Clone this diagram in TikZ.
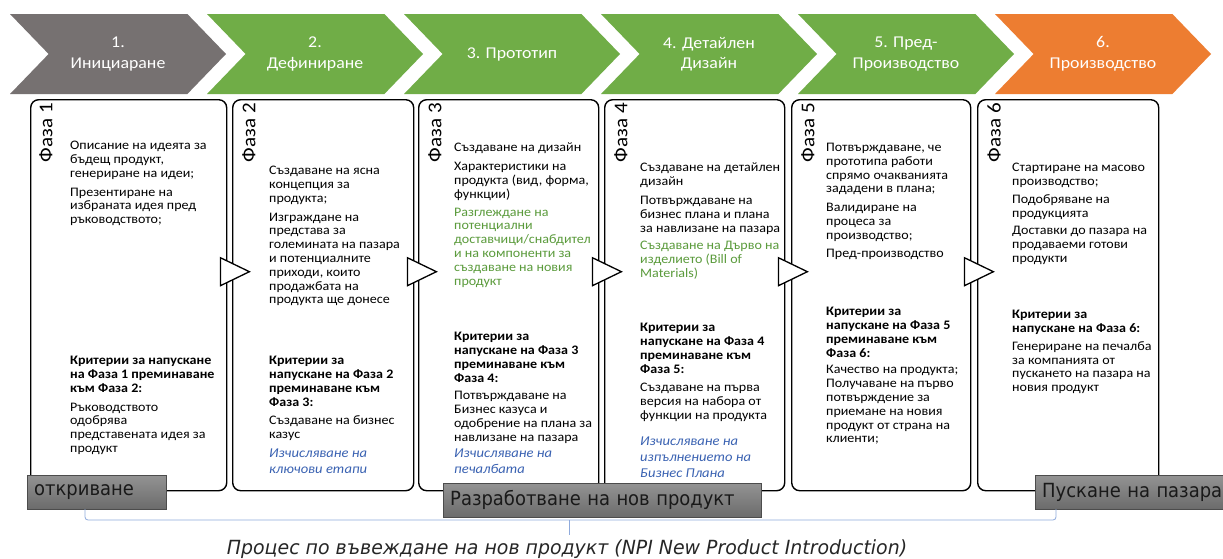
\documentclass[tikz,border=0pt]{standalone}
\usepackage{fontspec}
\setmainfont{Carlito}[FakeStretch=1.08]
\newfontfamily\djv{DejaVu Sans}[FakeStretch=0.92]
\newfontfamily\djvcap{DejaVu Sans}[FakeStretch=0.97]
\usetikzlibrary{shapes.symbols,calc}
\definecolor{cgray}{HTML}{767171}
\definecolor{cgreen}{HTML}{70AD47}
\definecolor{corange}{HTML}{ED7D31}
\definecolor{tgreen}{HTML}{5B9B3C}
\definecolor{tblue}{HTML}{3A62B2}
\definecolor{lblue}{HTML}{8FAADC}
\definecolor{labtop}{HTML}{939393}
\definecolor{labbot}{HTML}{6B6B6B}
\tikzset{
  chev/.style={signal, signal to=east, signal from=west, signal pointer angle=92,
    minimum width=216pt, minimum height=80pt, inner sep=0pt, draw=none,
    text=white, align=center, font=\fontsize{16.5}{20.5}\selectfont},
  phasebox/.style={draw=black, line width=1.4pt, rounded corners=8pt, anchor=north west, inner sep=0pt},
  tri/.style={draw=black, line width=1.3pt, fill=white, line join=miter},
  phase/.style={rotate=90, anchor=east, inner sep=0pt, font=\fontsize{19.5}{22}\selectfont},
  txt/.style={anchor=north west, inner sep=0pt, align=left, font=\fontsize{13}{13.8}\selectfont},
  note/.style={anchor=north west, inner sep=0pt, align=left, text=tblue, font=\fontsize{13.5}{16}\selectfont\itshape},
  lab/.style={draw=black!70, top color=labtop, bottom color=labbot, anchor=north west,
    inner xsep=7pt, inner ysep=0pt, minimum height=34pt, align=left, text=black!90,
    font=\djv\fontsize{19.5}{22}\selectfont},
  brace/.style={draw=lblue, line width=0.8pt, rounded corners=3pt}
}
\begin{document}
\begin{tikzpicture}[x=1pt,y=-1pt]
\useasboundingbox (0,0) rectangle (1223,558);
\fill[white] (0,0) rectangle (1223,558);
% chevrons
\node[chev, fill=cgray]   (c1) at (118,54)  {1.\\Инициаране};
\node[chev, fill=cgreen]  (c2) at (315,54)  {2.\\Дефиниране};
\node[chev, fill=cgreen]  (c3) at (512,54)  {3. Прототип};
\node[chev, fill=cgreen]  (c4) at (709,54)  {4. Детайлен\\Дизайн};
\node[chev, fill=cgreen]  (c5) at (906,54)  {5. Пред-\\Производство};
\node[chev, fill=corange] (c6) at (1103,54) {6.\\Производство};
% phase boxes
\node[phasebox, minimum width=196pt, minimum height=391pt] (b1) at (30,99) {};
\node[phasebox, minimum width=181pt, minimum height=391pt] (b2) at (232,99) {};
\node[phasebox, minimum width=180pt, minimum height=391pt] (b3) at (418,99) {};
\node[phasebox, minimum width=180pt, minimum height=391pt] (b4) at (604,99) {};
\node[phasebox, minimum width=179pt, minimum height=391pt] (b5) at (791,99) {};
\node[phasebox, minimum width=181pt, minimum height=391pt] (b6) at (977,99) {};
% arrow triangles between boxes
\foreach \b in {b1,b2,b3,b4,b5}{
  \draw[tri] ($(\b.east)+(-7,-37.5)$) -- ++(29,14) -- ++(-29,14) -- cycle;
}
% phase labels
\node[phase] (f1) at (46,103) {Фаза 1};
\node[phase] (f2) at (249,103) {Фаза 2};
\node[phase] (f3) at (435,103) {Фаза 3};
\node[phase] (f4) at (621,103) {Фаза 4};
\node[phase] (f5) at (808,103) {Фаза 5};
\node[phase] (f6) at (994,103) {Фаза 6};
% box 1
\node[txt] (t1a) at (70,141) {Описание на идеята за\\бъдещ продукт,\\генериране на идеи;\\[5pt]Презентиране на\\избраната идея пред\\ръководството;};
\node[txt] (t1b) at (70,356) {\textbf{Критерии за напускане}\\\textbf{на Фаза 1 преминаване}\\\textbf{към Фаза 2:}\\[5pt]Ръководството\\одобрява\\представената идея за\\продукт};
% box 2
\node[txt] (t2a) at (269,166) {Създаване на ясна\\концепция за\\продукта;\\[5pt]Изграждане на\\представа за\\големината на пазара\\и потенциалните\\приходи, които\\продажбата на\\продукта ще донесе};
\node[txt] (t2b) at (269,356) {\textbf{Критерии за}\\\textbf{напускане на Фаза 2}\\\textbf{преминаване към}\\\textbf{Фаза 3:}\\[5pt]Създаване на бизнес\\казус};
\node[note] (t2c) at (269,449) {Изчисляване на\\ключови етапи};
% box 3
\node[txt] (t3a) at (454,143) {Създаване на дизайн\\[5pt]Характеристики на\\продукта (вид, форма,\\функции)\\[4pt]\textcolor{tgreen}{Разглеждане на}\\\textcolor{tgreen}{потенциални}\\\textcolor{tgreen}{доставчици/снабдител}\\\textcolor{tgreen}{и на компоненти за}\\\textcolor{tgreen}{създаване на новия}\\\textcolor{tgreen}{продукт}};
\node[txt] (t3b) at (454,332) {\textbf{Критерии за}\\\textbf{напускане на Фаза 3}\\\textbf{преминаване към}\\\textbf{Фаза 4:}\\[4pt]Потвърждаване на\\Бизнес казуса и\\одобрение на плана за\\навлизане на пазара};
\node[note] (t3c) at (454,449) {Изчисляване на\\печалбата};
% box 4
\node[txt] (t4a) at (640,163) {Създаване на детайлен\\дизайн\\[5pt]Потвърждаване на\\бизнес плана и плана\\за навлизане на пазара\\[4pt]\textcolor{tgreen}{Създаване на Дърво на}\\\textcolor{tgreen}{изделието (Bill of}\\\textcolor{tgreen}{Materials)}};
\node[txt] (t4b) at (640,323) {\textbf{Критерии за}\\\textbf{напускане на Фаза 4}\\\textbf{преминаване към}\\\textbf{Фаза 5:}\\[5pt]Създаване на първа\\версия на набора от\\функции на продукта};
\node[note] (t4c) at (640,437) {Изчисляване на\\изпълнението на\\Бизнес Плана};
% box 5
\node[txt] (t5a) at (826,143) {Потвърждаване, че\\прототипа работи\\спрямо очакванията\\зададени в плана;\\[5pt]Валидиране на\\процеса за\\производство;\\[4pt]Пред-производство};
\node[txt] (t5b) at (826,307) {\textbf{Критерии за}\\\textbf{напускане на Фаза 5}\\\textbf{преминаване към}\\\textbf{Фаза 6:}\\[3pt]Качество на продукта;\\Получаване на първо\\потвърждение за\\приемане на новия\\продукт от страна на\\клиенти;};
% box 6
\node[txt] (t6a) at (1012,163) {Стартиране на масово\\производство;\\[4pt]Подобряване на\\продукцията\\[4pt]Доставки до пазара на\\продаваеми готови\\продукти};
\node[txt] (t6b) at (1012,310) {\textbf{Критерии за}\\\textbf{напускане на Фаза 6:}\\[4pt]Генериране на печалба\\за компанията от\\пускането на пазара на\\новия продукт};
% bottom labels
\node[lab, text width=125pt] (l1) at (27,475) {откриване};
\node[lab, text width=304pt] (l2) at (443,483) {Разработване на нов продукт};
\node[lab, text width=182pt] (l3) at (1035,475) {Пускане на пазара};
% brace
\coordinate (brL) at (85,509);
\coordinate (brR) at (1056,509);
\coordinate (brM) at (569,520);
\draw[brace] (brL) -- (brL |- brM) -- (brR |- brM) -- (brR);
\draw[brace] (brM) -- ++(0,15);
\node[font=\djvcap\fontsize{19.5}{22}\selectfont\itshape, text=black!85] (cap) at (567,549) {Процес по въвеждане на нов продукт (NPI New Product Introduction)};
\end{tikzpicture}
\end{document}
